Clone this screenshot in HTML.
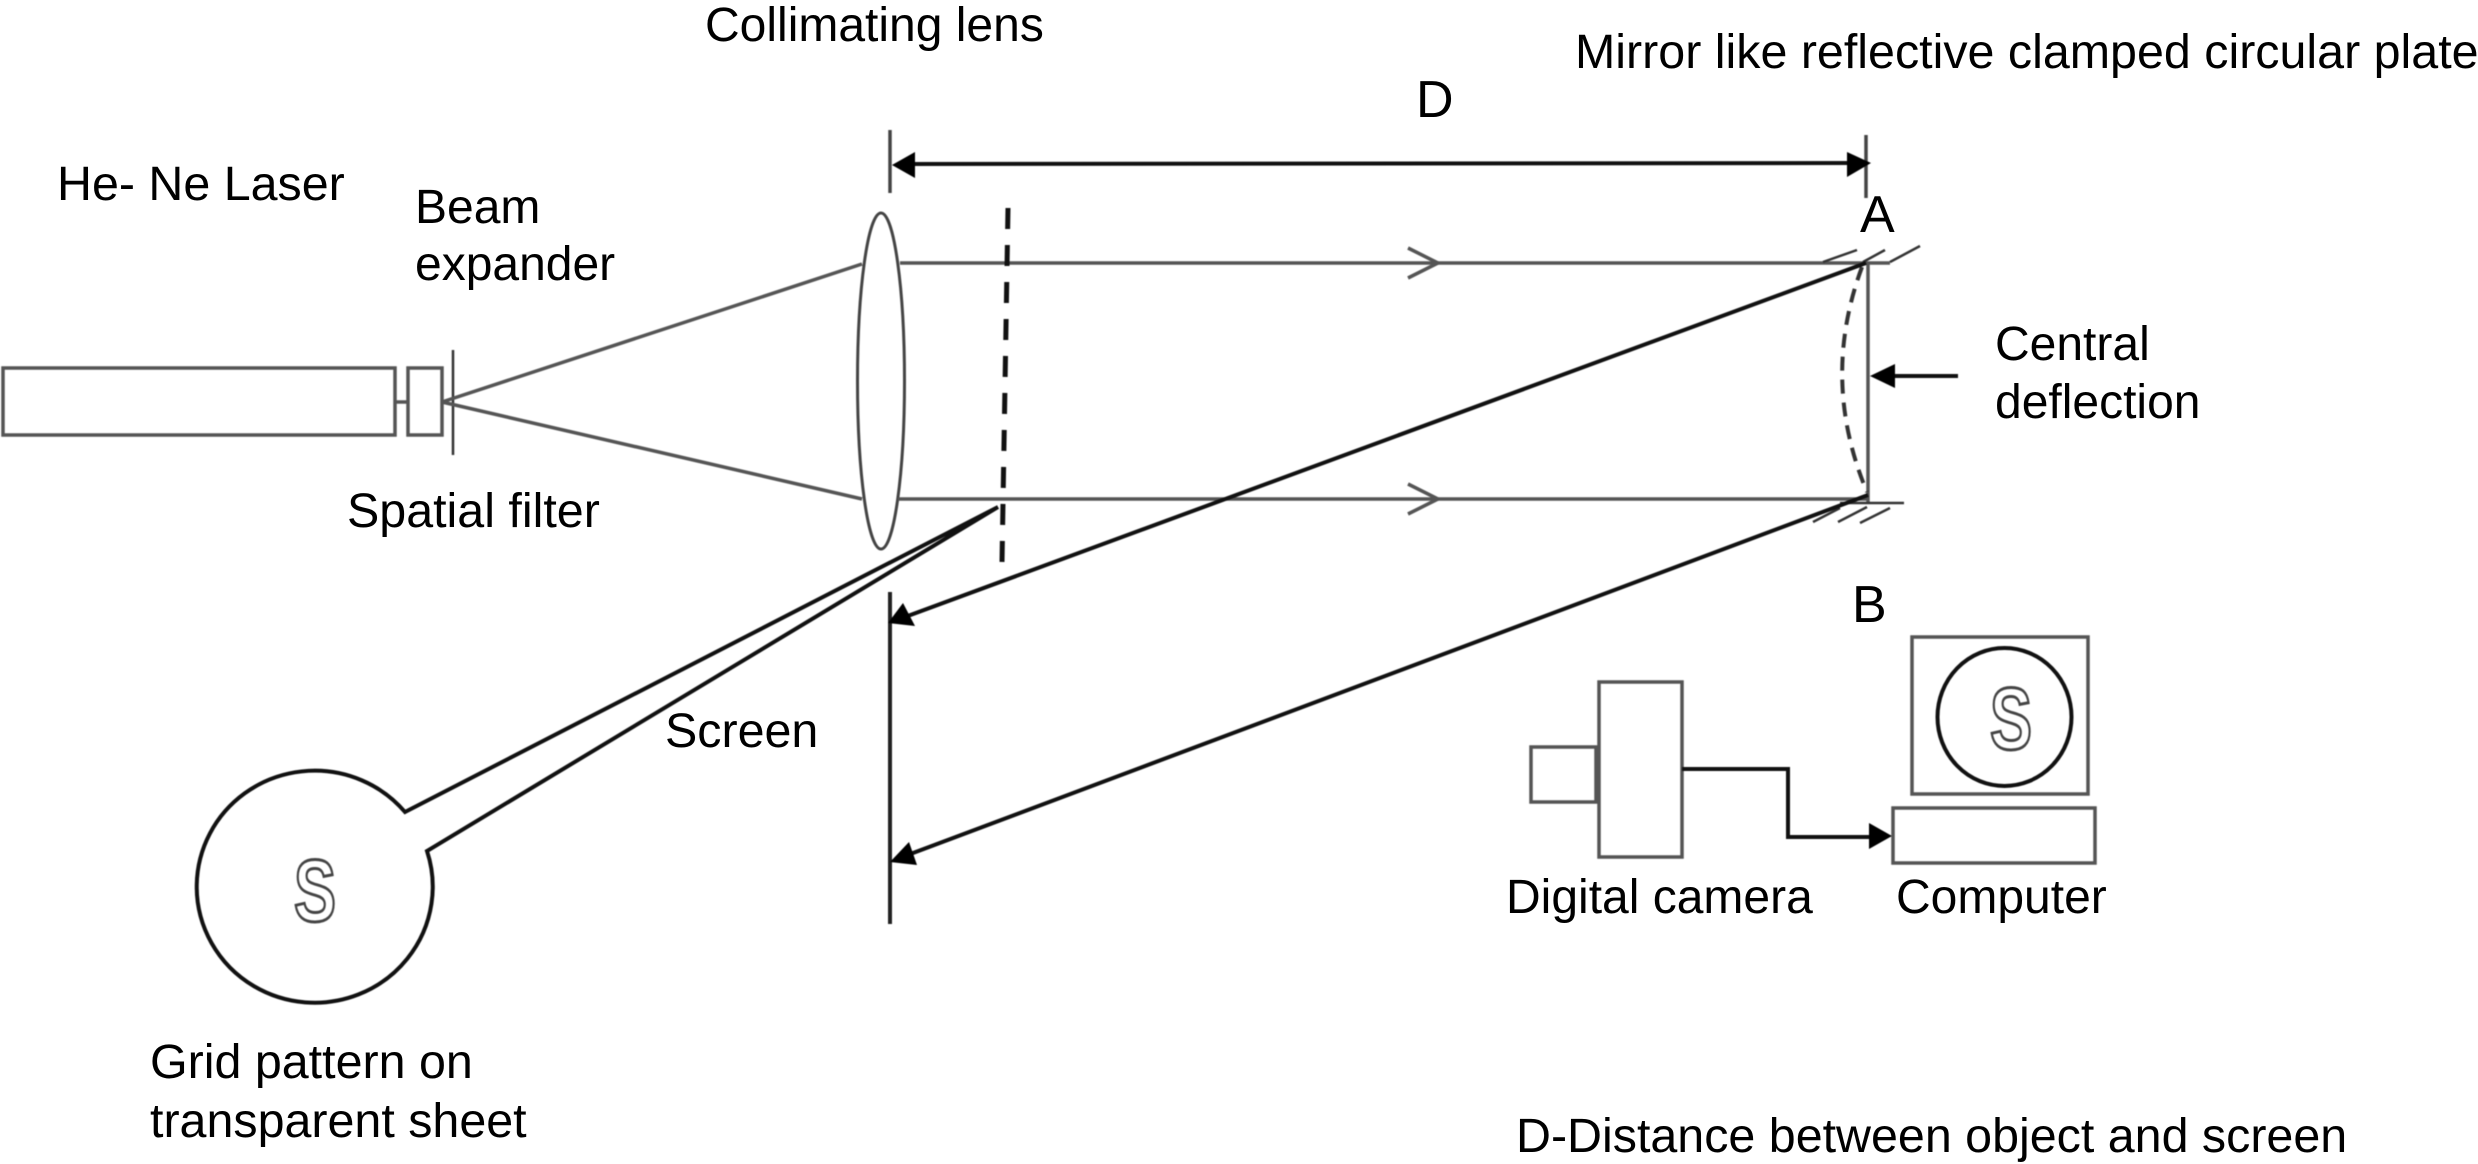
<!DOCTYPE html>
<html><head><meta charset="utf-8"><style>
html,body{margin:0;padding:0;background:#fff;width:2478px;height:1164px;overflow:hidden}
svg{display:block}
text{font-family:"Liberation Sans",sans-serif;font-size:48px;fill:#000}
.w{font-size:48.4px}
.g{stroke:#555;stroke-width:3.5;fill:none}
.k{stroke:#111;stroke-width:4;fill:none}
.t{stroke:#333;stroke-width:2.5;fill:none}
.s{font-size:88px;font-weight:bold;fill:#fff;stroke:#444;stroke-width:3}
.big{font-size:52px}
</style></head><body>
<svg width="2478" height="1164" viewBox="0 0 2478 1164" xmlns="http://www.w3.org/2000/svg">
<g style="filter:blur(.5px)">
<!-- laser -->
<rect class="g" x="3" y="368" width="392" height="67"/>
<line class="g" x1="395" y1="402" x2="408" y2="402"/>
<rect class="g" x="408" y="368" width="34" height="67"/>
<line class="t" x1="453" y1="350" x2="453" y2="455"/>
<path class="g" d="M442 402L862 264M442 402L862 499"/>
<ellipse cx="881" cy="381" rx="23.5" ry="168" fill="#fff" stroke="#444" stroke-width="3"/>
<!-- beams -->
<path class="g" d="M900 263H1890M898 499H1868"/>
<path class="g" d="M1408 248L1438 263L1408 278M1408 484L1438 499L1408 514"/>
<!-- dimension -->
<line x1="890" y1="130" x2="890" y2="193" stroke="#444" stroke-width="3.5"/>
<line x1="1866" y1="135" x2="1866" y2="198" stroke="#444" stroke-width="3.5"/>
<line class="k" stroke-width="4.5" x1="910" y1="164" x2="1850" y2="163"/>
<path d="M892 165L915 152V178Z M1871 163L1847 152V177Z" fill="#000"/>
<!-- dashed grid -->
<line x1="1008" y1="208" x2="1002" y2="562" stroke="#111" stroke-width="5" stroke-dasharray="21 16"/>
<!-- mirror -->
<line class="g" x1="1868" y1="262" x2="1868" y2="503"/>
<line class="t" x1="1840" y1="503" x2="1904" y2="503"/>
<path class="t" d="M1823 262L1857 250M1863 262L1885 250M1890 262L1920 246M1813 522L1840 508M1838 522L1867 507M1860 523L1890 508"/>
<path d="M1862 267Q1820 380 1867 492" fill="none" stroke="#333" stroke-width="4" stroke-dasharray="14 9"/>
<!-- central deflection arrow -->
<line class="k" stroke-width="4.5" x1="1958" y1="376" x2="1893" y2="376"/>
<path d="M1870 376L1895 364V388Z" fill="#000"/>
<!-- screen and reflected rays -->
<line x1="890" y1="592" x2="890" y2="924" stroke="#222" stroke-width="4"/>
<line class="k" x1="1866" y1="263" x2="905" y2="617"/>
<path d="M888 623L903 603L915 626Z" fill="#000"/>
<line class="k" x1="1868" y1="495" x2="905" y2="856"/>
<path d="M890 862L909 842L917 865Z" fill="#000"/>
<!-- magnifier -->
<path class="k" d="M998 507L405 812A118 116 0 1 0 427 851Z" stroke-linejoin="miter"/>
<text class="s" text-anchor="middle" transform="translate(315 921) scale(.72 1)">S</text>
<!-- camera -->
<rect class="g" x="1531" y="747" width="65" height="55"/>
<rect class="g" x="1599" y="682" width="83" height="175"/>
<path class="k" stroke-width="5" d="M1682 769H1788V837H1872"/>
<path d="M1892 836L1869 823V849Z" fill="#000"/>
<!-- computer -->
<rect class="g" x="1912" y="637" width="176" height="157"/>
<ellipse class="k" cx="2004.5" cy="717" rx="67" ry="69" stroke-width="3"/>
<text class="s" text-anchor="middle" transform="translate(2011 749) scale(.72 1)">S</text>
<rect class="g" x="1893" y="808" width="202" height="55"/>
</g>
<!-- labels -->
<text class="w" x="57" y="200">He- Ne Laser</text>
<text x="415" y="223">Beam</text>
<text x="415" y="280">expander</text>
<text class="w" x="347" y="527">Spatial filter</text>
<text x="705" y="41">Collimating lens</text>
<text class="w" x="1575" y="68">Mirror like reflective clamped circular plate</text>
<text class="big" x="1416" y="117">D</text>
<text class="big" x="1860" y="232">A</text>
<text class="big" x="1852" y="622">B</text>
<text x="1995" y="360">Central</text>
<text x="1995" y="418">deflection</text>
<text class="w" x="665" y="747">Screen</text>
<text x="1506" y="913">Digital camera</text>
<text x="1896" y="913">Computer</text>
<text class="w" x="150" y="1078">Grid pattern on</text>
<text class="w" x="150" y="1137">transparent sheet</text>
<text class="w" x="1516" y="1152">D-Distance between object and screen</text>
</svg>
</body></html>
